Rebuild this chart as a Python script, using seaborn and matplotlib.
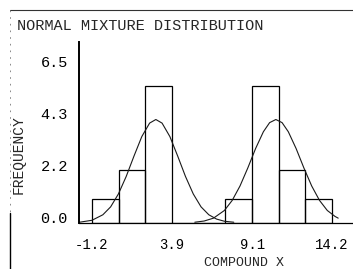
import numpy as np
import matplotlib
matplotlib.use("Agg")
import matplotlib.pyplot as plt
import matplotlib.transforms as mtransforms
from matplotlib.lines import Line2D
import seaborn as sns

sns.set_style("white")
plt.rcParams["font.family"] = ["Liberation Mono", "DejaVu Sans Mono"]

# histogram bins + heights
bin_edges = [-1.2, 0.51, 2.22, 3.93, 5.64, 7.36, 9.07, 10.78, 12.49, 14.2]
bar_heights = [1.0, 2.2, 5.7, 0.0, 0.0, 1.0, 5.7, 2.2, 1.0]

# fitted normal curves
left_x = [-2.0, -1.2, -0.5, 0.0, 0.5, 1.0, 1.5, 2.0, 2.5, 2.9, 3.3, 3.8,
          4.3, 4.8, 5.3, 5.8, 6.3, 6.8, 7.3, 7.9]
left_y = [0.02, 0.10, 0.33, 0.66, 1.20, 1.93, 2.78, 3.59, 4.15, 4.30, 4.15, 3.59,
          2.78, 1.93, 1.20, 0.66, 0.33, 0.15, 0.06, 0.02]
right_x = [5.4, 6.0, 6.6, 7.3, 7.8, 8.3, 8.8, 9.3, 9.8, 10.2, 10.6, 11.0,
           11.4, 11.9, 12.4, 12.9, 13.4, 13.9, 14.4, 14.6]
right_y = [0.02, 0.07, 0.19, 0.51, 0.93, 1.53, 2.28, 3.09, 3.79, 4.17, 4.30, 4.17,
           3.79, 3.09, 2.28, 1.53, 0.93, 0.51, 0.26, 0.19]

xtick_vals = [-1.2, 3.9, 9.1, 14.2]
xtick_labels = ["-1.2", "3.9", "9.1", "14.2"]
ytick_vals = [0.0, 6.5 / 3, 13 / 3, 6.5]
ytick_labels = ["0.0", "2.2", "4.3", "6.5"]

#%%
W, H = 353, 269
FS = 11
fig = plt.figure(figsize=(W / 100, H / 100), dpi=100)
ax = fig.add_axes([79 / W, (H - 222.7) / H, 274 / W, 180.7 / H])

mids = [(a + b) / 2 for a, b in zip(bin_edges[:-1], bin_edges[1:])]
sns.histplot(x=mids, weights=bar_heights, bins=bin_edges, fill=False,
             color="black", linewidth=0.9, ax=ax)
sns.lineplot(x=left_x, y=left_y, color="#1a1a1a", linewidth=0.8, ax=ax)
sns.lineplot(x=right_x, y=right_y, color="#1a1a1a", linewidth=0.8, ax=ax)

ax.set_xlim(-2.03, 15.55)
ax.set_ylim(0, 7.53)
ax.set_xlabel("")
ax.set_ylabel("")
for s in ["top", "right"]:
    ax.spines[s].set_visible(False)
ax.spines["left"].set_linewidth(1.4)
ax.spines["bottom"].set_linewidth(0.9)
ax.spines["left"].set_color("black")
ax.spines["bottom"].set_color("black")

ax.set_xticks(xtick_vals, labels=xtick_labels)
ax.set_yticks(ytick_vals, labels=ytick_labels)
ax.tick_params(axis="y", length=0, labelsize=FS, colors="black", pad=8)
ax.tick_params(axis="x", length=0, labelsize=10, colors="black", pad=11)
shift = mtransforms.ScaledTranslation(0, 5 / 100, fig.dpi_scale_trans)
for lab in ax.get_yticklabels():
    lab.set_transform(lab.get_transform() + shift)

fig.text(17 / W, 1 - 26 / H, "NORMAL MIXTURE DISTRIBUTION", ha="left", va="center", fontsize=FS)
fig.text(19 / W, 1 - 155 / H, "FREQUENCY", rotation=90, ha="center", va="center", fontsize=10.5)
fig.text(244 / W, 1 - 268.5 / H, "COMPOUND X", ha="center", va="bottom", fontsize=9.5)

# outer frame bits
fig.add_artist(Line2D([10 / W, 1], [1 - 10 / H, 1 - 10 / H], color="#333333", linewidth=0.8))
fig.add_artist(Line2D([10 / W, 10 / W], [1 - 10 / H, 1 - 213 / H], color="#777777",
                      linewidth=0.6, linestyle=(0, (2, 6))))
fig.add_artist(Line2D([10 / W, 10 / W], [1 - 213 / H, 0], color="black", linewidth=1.0))

fig.savefig("out.png", dpi=100)
